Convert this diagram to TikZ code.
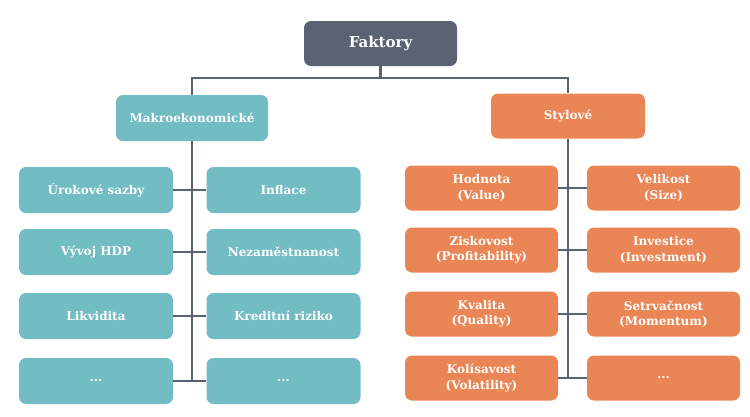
\documentclass[tikz,border=0pt]{standalone}
\usepackage{fontspec}
\setmainfont{DejaVu Serif}
\definecolor{slate}{HTML}{5B6272}
\definecolor{teal}{HTML}{72BCC4}
\definecolor{orng}{HTML}{EA8555}
\definecolor{linec}{HTML}{5A6272}
\begin{document}
\begin{tikzpicture}[x=1pt,y=-1pt,
  box/.style={rounded corners=7pt, text=white, font=\bfseries\fontsize{12}{15.5}\selectfont, align=center, inner sep=0pt},
  tbox/.style={box, fill=teal, minimum width=154pt, minimum height=46pt},
  obox/.style={box, fill=orng, minimum width=153pt, minimum height=45pt},
  conn/.style={draw=linec, line width=2.6pt}]
\useasboundingbox (0,0) rectangle (750,416);
\node[box, fill=slate, minimum width=153pt, minimum height=45pt, font=\bfseries\fontsize{15}{18}\selectfont] (fak) at (380.5,43.5) {Faktory};
\node[tbox, minimum width=152pt] (mak) at (192,118) {Makroekonomické};
\node[obox, minimum width=154pt] (sty) at (568,116) {Stylové};
% left
\node[tbox] (l1a) at (96,190) {Úrokové sazby};
\node[tbox] (l1b) at (283.5,190) {Inflace};
\node[tbox] (l2a) at (96,252) {Vývoj HDP};
\node[tbox] (l2b) at (283.5,252) {Nezaměstnanost};
\node[tbox] (l3a) at (96,316) {Likvidita};
\node[tbox] (l3b) at (283.5,316) {Kreditní riziko};
\node[tbox] (l4a) at (96,381) {...};
\node[tbox] (l4b) at (283.5,381) {...};
% right
\node[obox] (r1a) at (481.5,188) {Hodnota\\(Value)};
\node[obox] (r1b) at (663.5,188) {Velikost\\(Size)};
\node[obox] (r2a) at (481.5,250) {Ziskovost\\(Profitability)};
\node[obox] (r2b) at (663.5,250) {Investice\\(Investment)};
\node[obox] (r3a) at (481.5,314) {Kvalita\\(Quality)};
\node[obox] (r3b) at (663.5,314) {Setrvačnost\\(Momentum)};
\node[obox] (r4a) at (481.5,378) {Kolísavost\\(Volatility)};
\node[obox] (r4b) at (663.5,378) {...};
% connectors
\coordinate (bus) at (380.5,78);
\draw[conn] (fak.south) -- (bus);
\draw[conn] (bus) -| (mak.north);
\draw[conn] (bus) -| (sty.north);
\draw[conn] (mak.south) -- (mak.south |- l4a.east);
\draw[conn] (sty.south) -- (sty.south |- r4a.east);
\foreach \r in {1,2,3,4}{
  \draw[conn] (l\r a.east) -- (l\r b.west);
  \draw[conn] (r\r a.east) -- (r\r b.west);
}
\end{tikzpicture}
\end{document}
